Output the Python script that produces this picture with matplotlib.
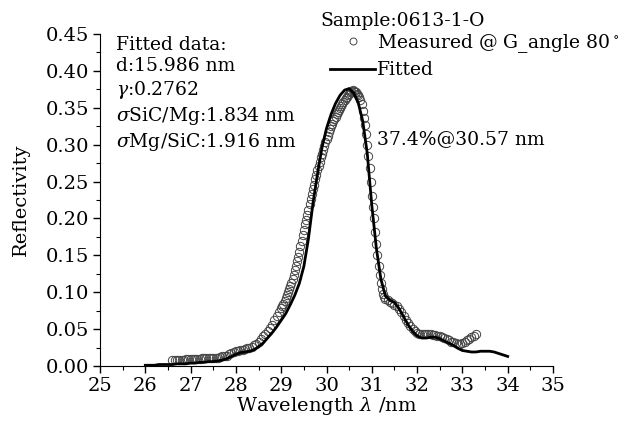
import numpy as np
import matplotlib
matplotlib.use("Agg")
import matplotlib.pyplot as plt
from matplotlib.ticker import MultipleLocator
from matplotlib.lines import Line2D

plt.rcParams['font.family'] = ['DejaVu Serif']
plt.rcParams['mathtext.fontset'] = 'dejavuserif'

# ---- measured data (circles) ----
lam_meas_a = np.round(np.arange(26.60, 28.951, 0.05), 3)
r_meas_a = [0.008, 0.008, 0.008, 0.008, 0.008, 0.008, 0.009, 0.009, 0.009, 0.009,
            0.010, 0.010, 0.010, 0.011, 0.011, 0.011, 0.011, 0.011, 0.011, 0.011,
            0.011, 0.012, 0.013, 0.013, 0.014, 0.016, 0.018, 0.019, 0.020, 0.021,
            0.022, 0.022, 0.023, 0.024, 0.025, 0.026, 0.028, 0.030, 0.033, 0.036,
            0.040, 0.044, 0.048, 0.052, 0.056, 0.062, 0.068, 0.073]

lam_meas_b = np.round(np.arange(29.000, 31.2751, 0.025), 3)
r_meas_b = [0.078, 0.081, 0.084, 0.088, 0.092, 0.096, 0.100, 0.104, 0.108, 0.113,
            0.118, 0.124, 0.130, 0.136, 0.142, 0.148, 0.155, 0.162, 0.170, 0.177,
            0.185, 0.192, 0.198, 0.205, 0.212, 0.219, 0.226, 0.233, 0.240, 0.246,
            0.253, 0.259, 0.265, 0.271, 0.277, 0.283, 0.288, 0.293, 0.298, 0.303,
            0.308,
            0.312, 0.317, 0.321, 0.325, 0.328, 0.332, 0.335, 0.338, 0.341, 0.344,
            0.347, 0.350, 0.353, 0.355, 0.358, 0.360, 0.363, 0.365, 0.367, 0.369,
            0.371, 0.373, 0.374, 0.373, 0.372, 0.371, 0.369, 0.367, 0.364, 0.361,
            0.355, 0.346, 0.336, 0.326, 0.314, 0.300, 0.285, 0.268, 0.250, 0.230,
            0.215, 0.200, 0.182, 0.165, 0.150, 0.135, 0.123, 0.112, 0.104, 0.098,
            0.094]

lam_meas_c = np.round(np.arange(31.30, 33.301, 0.05), 3)
r_meas_c = [0.091, 0.089, 0.087, 0.085, 0.083, 0.081, 0.077, 0.073, 0.068, 0.063,
            0.058, 0.054, 0.050, 0.047, 0.045, 0.044, 0.043, 0.043, 0.043, 0.043,
            0.043, 0.042, 0.042, 0.041, 0.040, 0.039, 0.038, 0.036, 0.035, 0.033,
            0.032, 0.031, 0.030, 0.030, 0.031, 0.033, 0.035, 0.037, 0.039, 0.041,
            0.043]

# ---- fitted curve ----
lam_fit = np.round(np.arange(26.0, 34.001, 0.1), 2)
r_fit = [0.001, 0.001, 0.001, 0.002, 0.002, 0.002, 0.002, 0.003, 0.003, 0.003,
         0.004, 0.004, 0.005, 0.005, 0.006, 0.006, 0.007, 0.008, 0.010, 0.013,
         0.016, 0.018, 0.019, 0.020, 0.022, 0.026, 0.031, 0.038, 0.045, 0.053,
         0.062, 0.071, 0.083, 0.096, 0.112, 0.135, 0.172, 0.220, 0.260, 0.296,
         0.322, 0.341, 0.356, 0.367, 0.374, 0.376, 0.370, 0.357, 0.332, 0.288,
         0.218, 0.160, 0.118, 0.095, 0.089, 0.086, 0.078, 0.067, 0.056, 0.047,
         0.041, 0.038, 0.038, 0.039, 0.039, 0.037, 0.034, 0.031, 0.028, 0.024,
         0.021, 0.020, 0.019, 0.019, 0.020, 0.020, 0.020, 0.019, 0.017, 0.015,
         0.013]

lam_meas = np.concatenate([lam_meas_a, lam_meas_b, lam_meas_c])
r_meas = np.concatenate([r_meas_a, r_meas_b, r_meas_c])

FS = 14

fig = plt.figure(figsize=(6.27, 4.21), dpi=100)
ax = fig.add_axes([100/627, 55/421, 453/627, 332/421])

ax.plot(lam_fit, r_fit, color='black', lw=2.0, zorder=3)
ax.plot(lam_meas, r_meas, linestyle='none', marker='o', markersize=6,
        markerfacecolor='none', markeredgecolor='#444444', markeredgewidth=0.7, zorder=2)

ax.set_xlim(25, 35)
ax.set_ylim(0, 0.45)
ax.xaxis.set_major_locator(MultipleLocator(1))
ax.xaxis.set_minor_locator(MultipleLocator(0.5))
ax.yaxis.set_major_locator(MultipleLocator(0.05))
ax.yaxis.set_minor_locator(MultipleLocator(0.025))
ax.yaxis.set_major_formatter(plt.FuncFormatter(lambda v, p: f"{v:.2f}"))
for s in ['top', 'right']:
    ax.spines[s].set_visible(False)
ax.tick_params(which='major', direction='out', length=5, width=1, labelsize=FS, pad=3)
ax.tick_params(which='minor', direction='out', length=3, width=0.8)

ax.set_xlabel(r'Wavelength $\lambda$ /nm', fontsize=FS, labelpad=0)
ax.set_ylabel('Reflectivity', fontsize=FS, labelpad=11)

ax.text(0.035, 0.995, 'Fitted data:\nd:15.986 nm\n$\\gamma$:0.2762\n$\\sigma$SiC/Mg:1.834 nm\n$\\sigma$Mg/SiC:1.916 nm',
        transform=ax.transAxes, ha='left', va='top', fontsize=13.5, linespacing=1.25)
ax.text(31.12, 0.307, '37.4%@30.57 nm', fontsize=13.5, ha='left', va='center')

fig.text(320/627, 1 - 21/421, 'Sample:0613-1-O', fontsize=13.5, ha='left', va='center')
handles = [Line2D([], [], linestyle='none', marker='o', markersize=5, markerfacecolor='none',
                  markeredgecolor='#444444', markeredgewidth=0.7),
           Line2D([], [], color='black', lw=2.0)]
leg = fig.legend(handles, ['Measured @ G_angle 80$^\\circ$', 'Fitted'],
                 loc='upper left',
                 bbox_to_anchor=(330/627, 1 - 32/421), frameon=False,
                 fontsize=13.5,
                 handlelength=2.4, handletextpad=0.1, labelspacing=0.35,
                 borderpad=0, borderaxespad=0)

fig.savefig('out.png', dpi=100)
